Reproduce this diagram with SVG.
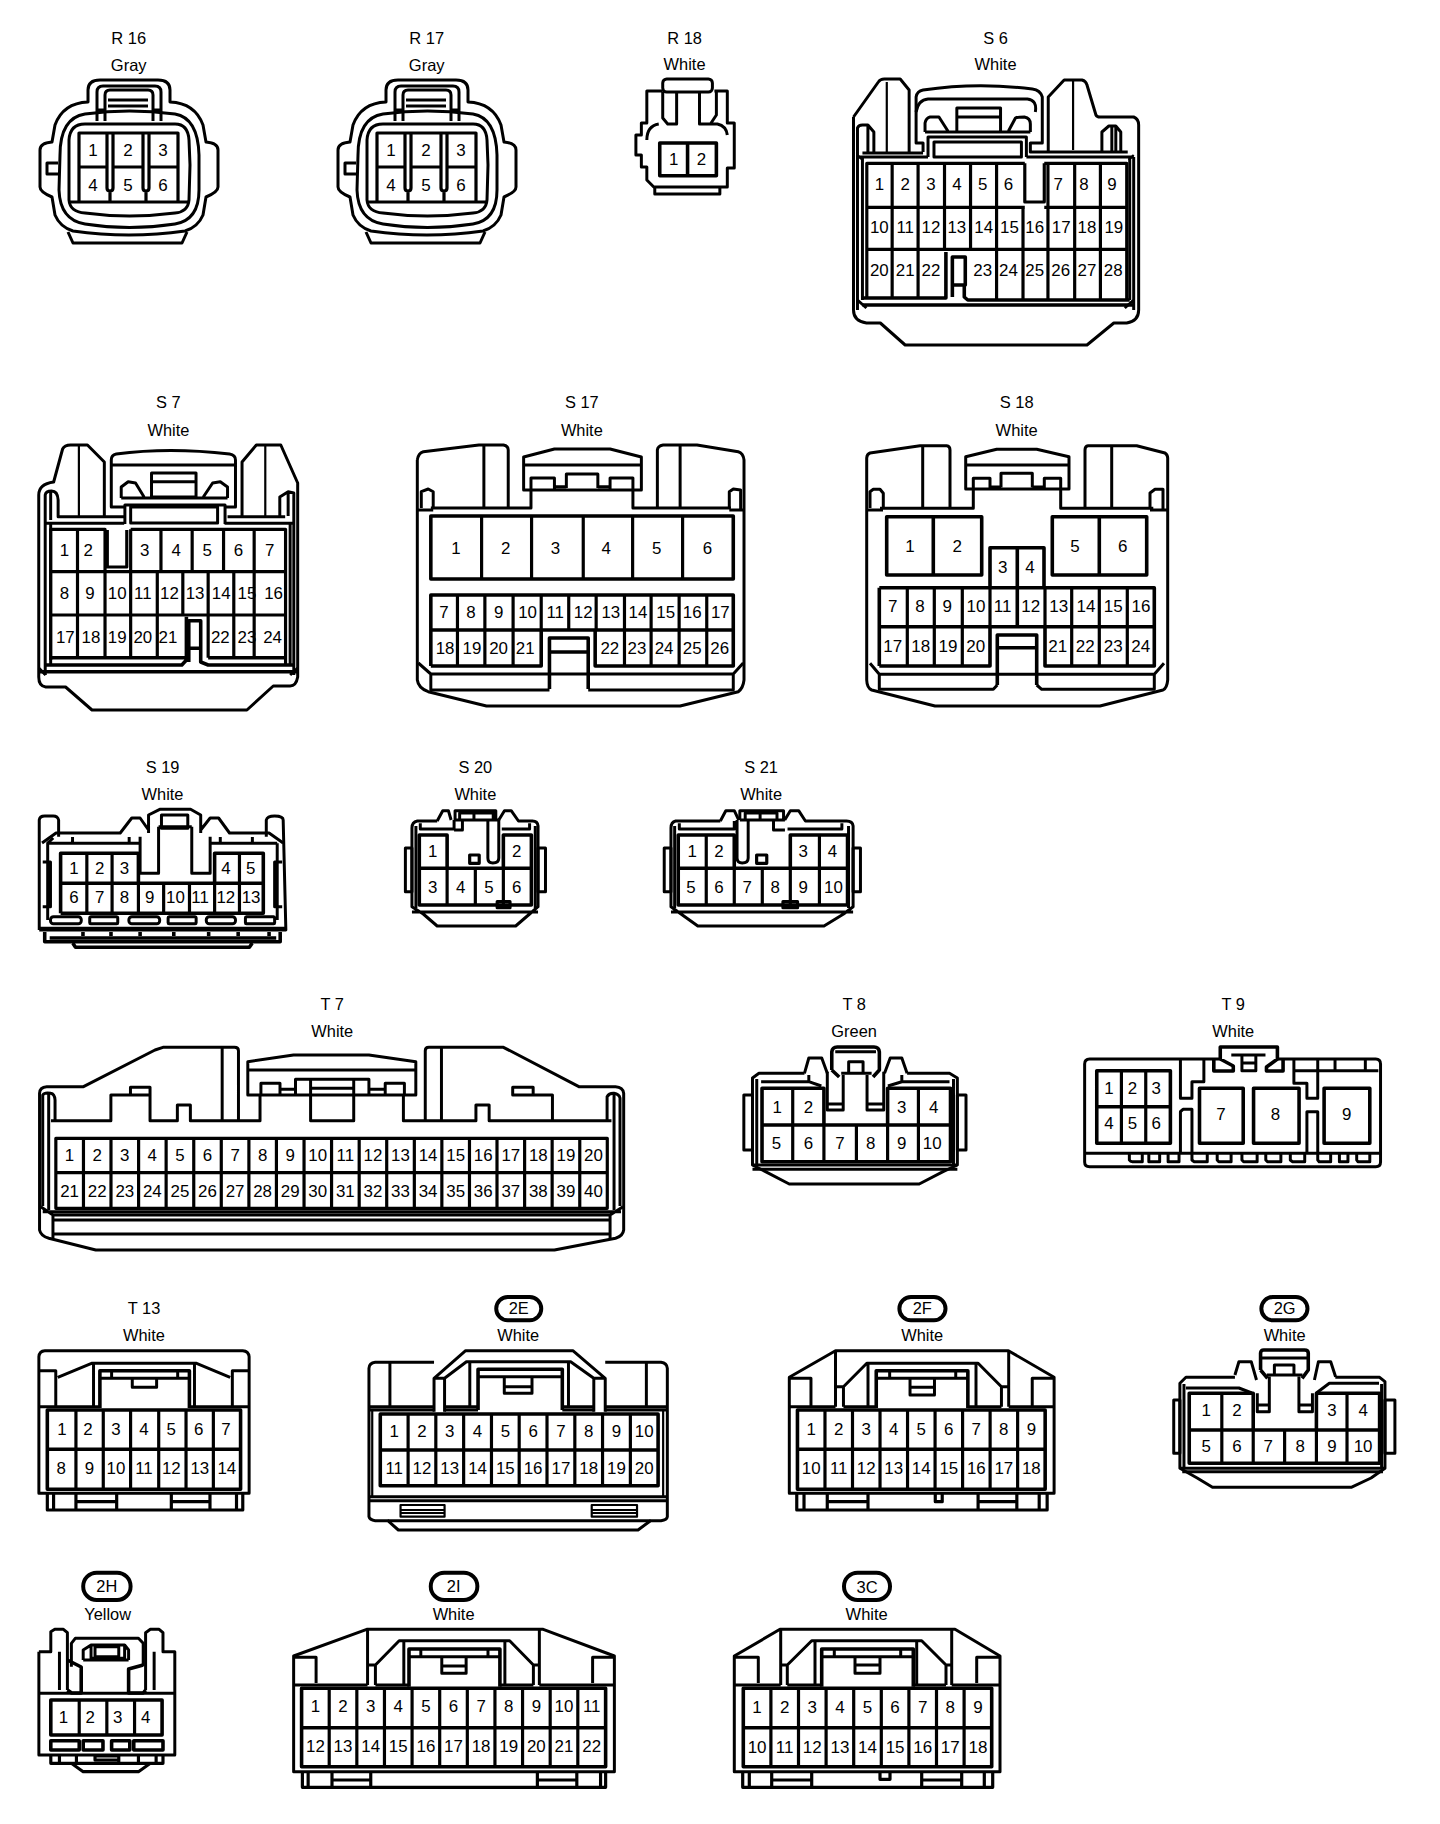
<svg xmlns="http://www.w3.org/2000/svg" width="1440" height="1824" viewBox="0 0 1440 1824">
<style>
text{font-family:"Liberation Sans",Arial,sans-serif;fill:#000;text-anchor:middle}
.p text{font-size:17px}
.n text,text.n{font-size:16.5px}
path,rect{fill:none;stroke:#000;stroke-width:3;stroke-linejoin:round}
.h{stroke-width:2.2}
.b{stroke-width:3.6}
.g{stroke-width:3.2}
.pill{stroke-width:4}
</style>
<defs>
<g id="r-shell">
<path d="M88,102V90Q88,80 100,80H158Q170,80 170,90V102Q195,103 203,125L206,142Q218,143 218,150V187Q218,192 206,197L203,215Q198,227 185,231Q129,239 73,231Q60,227 55,215L52,197Q40,192 40,187V150Q40,143 52,142L55,125Q63,103 88,102Z"/>
<path d="M68,232L73,243H182L187,232"/>
<path d="M60,155Q60,118 85,114Q129,108 175,114Q198,118 199,155V190Q199,220 175,224Q129,231 85,224Q60,220 59,190Z"/>
<path d="M69,200V140Q70,124 85,124H175Q188,124 189,140L190,165L189,200Q188,212 175,213Q129,219 85,213Q70,212 69,200Z"/>
<path d="M97,121V92Q97,86 103,86H155Q161,86 161,92V121M105,121V95Q105,90 110,90H148Q153,90 153,95V121M97,110H105M153,110H161"/>
<path d="M108,100H148M108,106H148M58,163H47V174H59"/>
<path class="g" d="M69,202H189M79,202V133H178V202M79,167H107M113,167H143M149,167H178M107,133V188Q107,191 110,191Q113,191 113,188V133M143,133V188Q143,191 146,191Q149,191 149,188V133M110,191V202M146,191V202"/>
</g>
</defs>

<g id="R16">
<text class="n" x="128.7" y="44">R 16</text><text class="n" x="128.7" y="70.5">Gray</text>
<use href="#r-shell"/>
<g class="p"><text x="93" y="156">1</text><text x="128" y="156">2</text><text x="163" y="156">3</text><text x="93" y="190.5">4</text><text x="128" y="190.5">5</text><text x="163" y="190.5">6</text></g>
</g>
<g id="R17" transform="translate(298,0)">
<text class="n" x="128.7" y="44">R 17</text><text class="n" x="128.7" y="70.5">Gray</text>
<use href="#r-shell"/>
<g class="p"><text x="93" y="156">1</text><text x="128" y="156">2</text><text x="163" y="156">3</text><text x="93" y="190.5">4</text><text x="128" y="190.5">5</text><text x="163" y="190.5">6</text></g>
</g>

<g id="R18" transform="matrix(.9936 0 0 1 3.97 0)">
<text class="n" x="685" y="44">R 18</text><text class="n" x="685" y="70.5">White</text>
<rect x="663" y="79" width="50" height="13" rx="4"/>
<path d="M663,91H647V123H641.500V135H636V155H641.500V167H647V180L654,187H728V168H735V123H728V91H715"/>
<path d="M663,92V118L668,124H677V92M700,92V124H711L717,115V92M647,140Q647,126 659,124M700,124H718Q727,126 728,135"/>
<path d="M655,187V194H720.500V187"/>
<path class="b" d="M660,143H717V175.700H660ZM688,143V175.700"/>
<g class="p"><text x="674" y="165">1</text><text x="702" y="165">2</text></g>
</g>

<g id="S6" transform="matrix(.9936 0 0 1 3.97 0)">
<text class="n" x="998" y="44">S 6</text><text class="n" x="998" y="70.500">White</text>
<path d="M855,117L880,82Q882,79 886,79H902L911,90V153M1051,153V97L1067,80H1085Q1089,81 1090,85L1099,115Q1100,117 1103,117H1137Q1142,119 1142,125V310Q1142,321 1130,323H1117L1090,345H907L882,323H868Q855,321 855,310V117"/>
<path class="h" d="M888.500,82V152M1076,80V150"/>
<path d="M925,152V143H918V97Q919,91 925,90Q979,82 1035,89Q1043,90 1045,97V143H1033V152H1131"/>
<path d="M918,112Q920,100 930,99H1030Q1040,100 1038,112"/>
<path d="M959,108H1003V132H959ZM959,117H1003M927,132V123Q928,118 932,117H941L950,131M1011,131L1018,118Q1020,117 1027,117Q1033,118 1033,124V132M927,132H1033"/>
<path d="M930,157V137H1029V157M936,142H1024V157H936Z"/>
<path d="M859,310V128Q860,125 864,125H869.500L875.500,132V152M869.500,126V152M864,153H925M1105,152V132L1112,126H1119L1124,132V152M1115,127V152M1119,127V152"/>
<path d="M859,157H930M1029,157H1137M864,157V300M1133,157V300M1137,157V310M859,300L868,308M1137,300L1128,308"/>
<path class="h" d="M859,155L864,160M1137,155L1132,160"/>
<path class="g" d="M868.400,298V163.300H1027.400M1047,163.300H1130V300M893.900,163.300V298M920,163.300V298M946.600,163.300V249.300M972.800,163.300V249.300M999,163.300V300M1025.600,207.300V300M1050.700,163.300V300M1077.600,163.300V300M1103.500,163.300V300M868.400,207.300H1027.400M1047,207.300H1130M868.400,249.300H1130M1027.400,163.300V202H1047V163.300"/>
<path class="b" d="M948,252V298H864M954.500,257H967.500V285H954.500ZM954.500,285V297M966.500,285V297L970,300H1133M864,305H1137"/>
<g class="p"><text x="881" y="190">1</text><text x="907" y="190">2</text><text x="933" y="190">3</text><text x="959" y="190">4</text><text x="985" y="190">5</text><text x="1011" y="190">6</text><text x="1061" y="190">7</text><text x="1087" y="190">8</text><text x="1115" y="190">9</text>
<text x="881" y="233">10</text><text x="907" y="233">11</text><text x="933" y="233">12</text><text x="959" y="233">13</text><text x="986" y="233">14</text><text x="1012" y="233">15</text><text x="1037.400" y="233">16</text><text x="1064" y="233">17</text><text x="1090" y="233">18</text><text x="1117" y="233">19</text>
<text x="881" y="276.500">20</text><text x="907" y="276.500">21</text><text x="933" y="276.500">22</text><text x="985" y="276.500">23</text><text x="1011" y="276.500">24</text><text x="1037.400" y="276.500">25</text><text x="1063.600" y="276.500">26</text><text x="1090" y="276.500">27</text><text x="1116.400" y="276.500">28</text></g>
</g>

<g id="S7" transform="scale(.9936,1)">
<text class="n" x="169.500" y="408.300">S 7</text><text class="n" x="169.500" y="436">White</text>
<path d="M39,495Q39,484 54,482L63,449Q65,445 71,445H88L105,462V516M243.600,516V462L258,445H282.600L299.600,483V677Q298,686 292,686H275L248.500,710H92.600L66,687H46Q39,686 39,677V495"/>
<path class="h" d="M79.400,445V516M267,445V516"/>
<path d="M125.700,507H112V460Q112,455 117,454Q170,447 231,454Q237,455 237,460V507H226.500M112,465H237"/>
<path d="M152.500,473H197.300V497H152.500ZM152.500,481.700H197.300M122,498V487L129,481.700L136.400,483L145,497M204.600,497L214,483L221.700,481.700L229,487V498M122,498H229"/>
<path d="M125.700,524V505H226.500V524M131.500,507H219V523H131.500Z"/>
<path d="M45.500,675V495Q46,491 52,491Q58,491 58.500,500V516.700H125M51,491V520M229,516.700H287M281.600,516.700V497L290,491.700L295.700,493V675M290,491.700V516"/>
<path d="M46,523.300H125M226,523.300H296M51,523V665M292,523V665M39,668L46,675M299.600,668L292,675"/>
<path class="g" d="M51,660V529.300H105.700V571.700M108,530V567H127.600V530M131.500,529.300H287.400V665M78,529.300V657.700M131.500,529.300V615M162,529.300V571.700M193.400,529.300V571.700M225,529.300V571.700M255.800,529.300V657.700M158.300,571.700V657.700M184,571.700V615M209.500,571.700V657.700M235.300,571.700V657.700M105.700,571.700V657.700M131.500,615V657.700M51,571.700H287.400M51,615H287.400"/>
<path class="b" d="M187.600,616.700V660L183,665H46M190,620.700H202V648.300H190ZM190,648V662M202,648V662L209.500,665H295M39,671.700H299.600M51,657.700H187.600M209.500,657.700H287.400"/>
<g class="p"><text x="64.800" y="556">1</text><text x="88.700" y="556">2</text><text x="145.700" y="556">3</text><text x="177.300" y="556">4</text><text x="208.500" y="556">5</text><text x="240" y="556">6</text><text x="271.400" y="556">7</text>
<text x="64.800" y="599">8</text><text x="90.600" y="599">9</text><text x="118" y="599">10</text><text x="143.700" y="599">11</text><text x="170.500" y="599">12</text><text x="196.300" y="599">13</text><text x="222.600" y="599">14</text><text x="248.500" y="599">15</text><text x="275.300" y="599">16</text>
<text x="65.800" y="642.700">17</text><text x="91.600" y="642.700">18</text><text x="118" y="642.700">19</text><text x="143.700" y="642.700">20</text><text x="169" y="642.700">21</text><text x="221.700" y="642.700">22</text><text x="248.500" y="642.700">23</text><text x="274.300" y="642.700">24</text></g>
</g>

<g id="S17" transform="scale(.9936,1)">
<text class="n" x="585.600" y="408.300">S 17</text><text class="n" x="585.600" y="436">White</text>
<path d="M420,460Q421,453 426,451.700L482,445H506.700Q511.500,446 511.500,450V508M661.600,508V450Q662,446 667.400,445H701.500L743,451.700Q748,453 748.800,460V680Q748,688 743,691.700L684.500,706H489.600L431,691.700Q421,688 420,680V460"/>
<path d="M487,445V508M684.500,445V508"/>
<path d="M527,490V457L558,449H614L645.500,457V490ZM527,465H645.500M534.400,490V478H558V490M570,488V474H601.700V488M614,490V478H637V490M558,486.700H570M601.700,486.700H614M534.400,490V508H433.600M637,490V508H735.600"/>
<path d="M424,508V491.700L431,489L436,491.700V508M734,508V491.700L738,489L745.400,490V510M420,510H436M734,510H749"/>
<path class="b" d="M433.600,516H738V579H433.600Z"/>
<path class="g" d="M484.700,516V579M535,516V579M587,516V579M636.700,516V579M687,516V579"/>
<path class="b" d="M433.600,666V595H738V666H599V630M433.600,630H738M433.600,666H544.700V630"/>
<path class="g" d="M460.400,595V666M488,595V666M516.400,595V666M544.700,595V630M572.400,595V630M600,595V630M628.500,595V666M655.300,595V666M683.500,595V666M711.300,595V666"/>
<path class="b" d="M553,689V638H592V689M553,652H592"/>
<path d="M421,663L433.600,674H738L748,663M433.600,674V690H553M738,674V690H592"/>
<g class="p"><text x="459" y="553.700">1</text><text x="509" y="553.700">2</text><text x="559" y="553.700">3</text><text x="610" y="553.700">4</text><text x="661" y="553.700">5</text><text x="712" y="553.700">6</text>
<text x="446.700" y="617.700">7</text><text x="474" y="617.700">8</text><text x="501.800" y="617.700">9</text><text x="531" y="617.700">10</text><text x="558.800" y="617.700">11</text><text x="587" y="617.700">12</text><text x="614.800" y="617.700">13</text><text x="642" y="617.700">14</text><text x="670" y="617.700">15</text><text x="696.700" y="617.700">16</text><text x="725" y="617.700">17</text>
<text x="448" y="653.700">18</text><text x="475" y="653.700">19</text><text x="501.800" y="653.700">20</text><text x="528.600" y="653.700">21</text><text x="613.800" y="653.700">22</text><text x="641" y="653.700">23</text><text x="668.400" y="653.700">24</text><text x="696.700" y="653.700">25</text><text x="724.400" y="653.700">26</text></g>
</g>

<g id="S18">
<text class="n" x="1016.700" y="408.300">S 18</text><text class="n" x="1016.700" y="436">White</text>
<path d="M866.700,458Q867,454 870,453L920,445.700H946.700Q950,446 950,450V508M1085,508V450Q1085,446 1088,445.700H1136.700L1165,453Q1167.700,455 1167.700,458V680Q1167,688 1163,690L1100,706H935L871.700,690Q867,688 866.700,680V458"/>
<path d="M922.700,446V508M1111.700,446V508"/>
<path d="M965.700,489V456.700L996.700,449.300H1036.700L1069,456.700V489ZM965.700,465H1069M973.300,489V478.300H990V488.300M1001,487.300V473.300H1032.300V487.300M1044.300,489V478.300H1060.700V489M990,487H1001M1032.300,487H1044.300M973.300,489V508.300H880M1060.700,489V508.300H1153.300"/>
<path d="M870,508V491.700L873.300,489.300H880L883.300,493.300V508M1150,508V493L1155,489.300H1163V510M866.700,510H883M1150,510H1167"/>
<path class="b" d="M886.700,516.700H981.700V575H886.700ZM933.300,516.700V575M1052.300,516.700H1146.700V575H1052.300ZM1099.300,516.700V575"/>
<path class="b" d="M990,587.700V547.700H1044V587.700M1017.300,547.700V626.700"/>
<path class="b" d="M879.300,587.700H1154.300V666H1045V626.700M879.300,666V587.700M879.300,626.700H1154.300M879.300,666H990V626.700"/>
<path class="g" d="M907.300,587.700V666M934.300,587.700V666M962.300,587.700V666M990,587.700V626.700M1045,587.700V626.700M1071.700,587.700V666M1099.300,587.700V666M1127.300,587.700V666"/>
<path class="b" d="M997.300,685V635H1036.700V685M997.300,647.700H1036.700"/>
<path d="M870,663.300L879.300,674.300H1154.300L1164,663.300M879.300,674.300V689.300H993.300L997.300,685M1154.300,674.300V689.300H1041.700L1036.700,685"/>
<g class="p"><text x="910" y="551.700">1</text><text x="957.300" y="551.700">2</text><text x="1002.700" y="572.700">3</text><text x="1030" y="572.700">4</text><text x="1075" y="551.700">5</text><text x="1122.700" y="551.700">6</text>
<text x="892.700" y="612.300">7</text><text x="920" y="612.300">8</text><text x="947.300" y="612.300">9</text><text x="976" y="612.300">10</text><text x="1002.700" y="612.300">11</text><text x="1030.700" y="612.300">12</text><text x="1058.700" y="612.300">13</text><text x="1086" y="612.300">14</text><text x="1113.300" y="612.300">15</text><text x="1141" y="612.300">16</text>
<text x="892.700" y="651.700">17</text><text x="920.700" y="651.700">18</text><text x="948" y="651.700">19</text><text x="975.700" y="651.700">20</text><text x="1057.700" y="651.700">21</text><text x="1085.300" y="651.700">22</text><text x="1113.300" y="651.700">23</text><text x="1140.700" y="651.700">24</text></g>
</g>

<g id="S19" transform="scale(.9936,1)">
<text class="n" x="163.600" y="773.500">S 19</text><text class="n" x="163.600" y="800.500">White</text>
<path d="M39.500,930V820Q40,816 45,816H53.600Q58,816 59,820V836.700M268,836.700V820Q269,816 276.400,816Q285,816 285,820L287.700,930H39.500"/>
<path d="M42.300,843L56.400,833H121L132.600,818H141L149.500,830M149.500,833V815L160.800,809.300H191.800L202,815V833M202,830L211.500,818H220L231,833H270.800L285,843"/>
<path d="M162.500,815H189V828.300H162.500ZM159.600,826.700H193M159.600,826.700V873.300H141V836.700M193,826.700V873.300H211.500V836.700"/>
<path d="M48,920V843L53.600,838M73,837V843.300M130,837V843.300M221.700,837V843.300M254,837V843.300M48,843.300H141M211.500,843.300H279M279,843.300V920"/>
<path d="M43,862H50.800V906.700H43M284,862H276.400V906.700H284"/>
<path class="b" d="M61,913.300V853.300H139.300V883.300M216,883.300V853.300H265V913.300H61M61,883.300H265"/>
<path class="g" d="M87.400,853.300V913.300M112.800,853.300V913.300M139.300,883.300V913.300M164.700,883.300V913.300M190.700,883.300V913.300M216,883.300V913.300M241,853.300V913.300"/>
<g class="g"><rect x="50.800" y="916.700" width="31" height="7" rx="3"/><rect x="90.300" y="916.700" width="28.200" height="7" rx="1"/><rect x="129.700" y="916.700" width="31" height="7" rx="3"/><rect x="169.200" y="916.700" width="28.200" height="7" rx="1"/><rect x="207.600" y="916.700" width="29.400" height="7" rx="3"/><rect x="247" y="916.700" width="29.400" height="7" rx="1"/></g>
<path d="M39.500,928.300H287.700"/>
<path class="b" d="M45,932V941.700H282V932M50,938H278M83.500,932V936M111.700,932V936M141,932V936M174.900,932V936M210,932V936M239.700,932V936M270.800,932V936M73.300,943.300L76,947.300H251L253.800,943.300"/>
<g class="p"><text x="74.500" y="874">1</text><text x="100.400" y="874">2</text><text x="125.200" y="874">3</text><text x="227.300" y="874">4</text><text x="252.200" y="874">5</text>
<text x="74.500" y="902.700">6</text><text x="100.400" y="902.700">7</text><text x="125.200" y="902.700">8</text><text x="150.600" y="902.700">9</text><text x="176.600" y="902.700">10</text><text x="201.400" y="902.700">11</text><text x="227.300" y="902.700">12</text><text x="252.700" y="902.700">13</text></g>
</g>

<g id="S20" transform="scale(.9936,1)">
<text class="n" x="478.400" y="773.500">S 20</text><text class="n" x="478.400" y="800.500">White</text>
<path d="M440,821H420Q414.600,822 414.600,828V906.700L426,914L440,926H519L533,914L541.500,906.700V826Q541,821 536,821H521.800L514.500,810.700H507.700L502,820M440,821L445.600,810.700H451.300L454,820M414.600,912H541.500"/>
<path d="M408,848H414.600V891.700H408ZM541.500,848H549V891.700H541.500Z"/>
<path d="M458,820V810.700H499V820M458,820H502M462.600,813H496.400V820H462.600ZM477,813V820"/>
<path d="M423,823.300V829H457V820M465.400,820V830H457M491,820V858Q491,863 496,863Q502,863 502,858V820M505,829H533V823.300M418.600,826V908M538.700,826V908"/>
<path class="b" d="M422,868.300V835H450V868.300M506.600,868.300V835H534.800V905H422V868.300H534.800"/>
<path class="g" d="M450,868.300V905M478.400,868.300V905M506.600,868.300V905"/>
<rect class="g" x="472.700" y="855" width="9.600" height="8.300"/><rect class="g" x="500.400" y="901.700" width="12.900" height="6"/>
<g class="p"><text x="435.500" y="856.700">1</text><text x="520" y="856.700">2</text><text x="435.500" y="892.700">3</text><text x="463.700" y="892.700">4</text><text x="492" y="892.700">5</text><text x="520" y="892.700">6</text></g>
</g>

<g id="S21" transform="scale(.9936,1)">
<text class="n" x="766" y="773.500">S 21</text><text class="n" x="766" y="800.500">White</text>
<path d="M725,821H680Q675.300,822 675.300,828V906.700L685.400,914L702.300,926H829.300L849,914L858.600,906.700V826Q858,821 852,821H810.600L803.800,810.700H795.400L789.800,820M725,821L730.500,810.700H739L743.500,820M675.300,912H858.600"/>
<path d="M668.500,848H675.300V891.700H668.500ZM858.600,848H866V891.700H858.600Z"/>
<path d="M744.600,820V810.700H788.600V820M744.600,820H790M750,813H782V820H750ZM765,813V820"/>
<path d="M683.700,823.300V829H739V821M741.800,820V858Q742,863 747,863Q753,863 753,858V820M778.500,820V830H790M792.600,829H847.300V823.300M679,826V908M854,826V908"/>
<path class="b" d="M682.600,868.300V835H739V868.300M795.400,868.300V835H853V905H682.600V868.300H853"/>
<path class="g" d="M710.800,835V905M739,868.300V905M767.200,868.300V905M795.400,868.300V905M824.700,835V905"/>
<rect class="g" x="761.500" y="855" width="10.200" height="8.300"/><rect class="g" x="788" y="901.700" width="14.700" height="6"/>
<g class="p"><text x="696.700" y="856.700">1</text><text x="723.700" y="856.700">2</text><text x="808.400" y="856.700">3</text><text x="837.700" y="856.700">4</text><text x="695.500" y="892.700">5</text><text x="723.700" y="892.700">6</text><text x="752" y="892.700">7</text><text x="780.200" y="892.700">8</text><text x="808.400" y="892.700">9</text><text x="838.800" y="892.700">10</text></g>
</g>

<g id="T7" transform="scale(.9936,1)">
<text class="n" x="334.400" y="1010.500">T 7</text><text class="n" x="334.400" y="1037.500">White</text>
<path d="M240,1120V1050.700Q240,1047.300 236,1047.300H164L156,1050L84,1086.700H47Q40,1087 39.800,1093.300V1230Q41,1236 49.200,1238.300L96.400,1250H558L619.500,1238.300Q627,1236 627.700,1230V1093.300Q627,1087 619.500,1086.700H582.600L506.700,1047.300H431.600Q428,1047.300 428,1050.700V1120"/>
<path d="M223.600,1047.300V1120M444.300,1047.300V1120"/>
<path d="M249.400,1095V1061.700L295.400,1055H371.300L418.500,1061.700V1095ZM249.400,1070H418.500M262.600,1095V1083.300H281.800V1095M387.700,1095V1083.300H407V1095M297.400,1095V1079.300H371.300V1095M281.800,1089.300H297.400M371.300,1089.300H387.700M312.600,1079.300V1120.700H356V1079.300M312.600,1088.300H356"/>
<path d="M51.300,1120.700H111.600V1095H131.300V1087.300H151V1120.700H178.500V1105H191.600V1120.700H261.700V1095M131.300,1095H151M406,1095V1120.700H479V1105H492.300V1120.700H556V1095H516V1087.300H536.600V1095M556,1120.700H615.400"/>
<path d="M43,1206V1095Q45,1092 51,1093.300Q55,1094 55.400,1100V1120.700M49,1093V1210M611,1120.700V1096.700Q613,1093 618,1093.300Q623,1094 624,1098V1206M618,1094V1210"/>
<path class="g" d="M56.200,1138.300H611.200V1208.300H56.200ZM56.200,1172.700H611.200M84,1138.300V1208.300M111.700,1138.300V1208.300M139.500,1138.300V1208.300M167.200,1138.300V1208.300M195,1138.300V1208.300M222.700,1138.300V1208.300M250.500,1138.300V1208.300M278.200,1138.300V1208.300M306,1138.300V1208.300M333.700,1138.300V1208.300M361.500,1138.300V1208.300M389.200,1138.300V1208.300M417,1138.300V1208.300M444.700,1138.300V1208.300M472.500,1138.300V1208.300M500.200,1138.300V1208.300M528,1138.300V1208.300M555.700,1138.300V1208.300M583.500,1138.300V1208.300"/>
<path d="M41,1206.700L53.300,1215H614L627,1206.700M43,1211.700H625M53.300,1220H614M53.300,1215V1238M614,1215V1238M53.300,1234H615"/>
<g class="p"><text x="70" y="1161">1</text><text x="97.800" y="1161">2</text><text x="125.600" y="1161">3</text><text x="153.300" y="1161">4</text><text x="181.100" y="1161">5</text><text x="208.800" y="1161">6</text><text x="236.600" y="1161">7</text><text x="264.300" y="1161">8</text><text x="292.100" y="1161">9</text><text x="319.800" y="1161">10</text><text x="347.600" y="1161">11</text><text x="375.300" y="1161">12</text><text x="403.100" y="1161">13</text><text x="430.800" y="1161">14</text><text x="458.600" y="1161">15</text><text x="486.300" y="1161">16</text><text x="514.100" y="1161">17</text><text x="541.800" y="1161">18</text><text x="569.600" y="1161">19</text><text x="597.300" y="1161">20</text>
<text x="70" y="1196.700">21</text><text x="97.800" y="1196.700">22</text><text x="125.600" y="1196.700">23</text><text x="153.300" y="1196.700">24</text><text x="181.100" y="1196.700">25</text><text x="208.800" y="1196.700">26</text><text x="236.600" y="1196.700">27</text><text x="264.300" y="1196.700">28</text><text x="292.100" y="1196.700">29</text><text x="319.800" y="1196.700">30</text><text x="347.600" y="1196.700">31</text><text x="375.300" y="1196.700">32</text><text x="403.100" y="1196.700">33</text><text x="430.800" y="1196.700">34</text><text x="458.600" y="1196.700">35</text><text x="486.300" y="1196.700">36</text><text x="514.100" y="1196.700">37</text><text x="541.800" y="1196.700">38</text><text x="569.600" y="1196.700">39</text><text x="597.300" y="1196.700">40</text></g>
</g>

<g id="T8" transform="matrix(.9936 0 0 1 4.6 0)">
<text class="n" x="855" y="1010.500">T 8</text><text class="n" x="855" y="1037.500">Green</text>
<path class="b" d="M832.500,1070V1052Q833,1047 838,1047H875Q880,1047 880.400,1052V1070L874,1077M832.500,1070L840,1077"/>
<path d="M836,1051.700H877M828,1071.700V1110H844V1075M884.800,1071.700V1110H868V1075M828,1104H844M868,1104H885"/>
<path d="M842,1073.300H872.600M849.500,1073V1061.700H864V1073"/>
<path d="M805,1073.300L809.400,1058H822.400L828,1073.300M885.600,1073.300L891.300,1058H903L908.300,1073.300M805,1073.300H759.200L752.700,1078V1165L765.800,1171.700L789.700,1184H920.500L944.500,1171.700L958.900,1165V1078L951,1073.300H908.300"/>
<path d="M757,1165V1079M955,1165V1079M761.400,1081.700H809.400V1075M903,1075V1081.700H951M809.400,1081.700L822,1086M903,1081.700L889,1086M744,1095H752.700V1150H744ZM958.900,1095H967.600V1150H958.900Z"/>
<path class="b" d="M762.300,1125V1088.300H824.600V1125M888.700,1125V1088.300H952V1161.700H762.300V1125H952"/>
<path class="g" d="M793.200,1088.300V1161.700M824.600,1125V1161.700M857.300,1125V1161.700M888.700,1125V1161.700M919.700,1088.300V1161.700"/>
<path d="M752.700,1165H958.900M752.700,1169.300H958.900"/>
<g class="p"><text x="777.500" y="1112.700">1</text><text x="809" y="1112.700">2</text><text x="903" y="1112.700">3</text><text x="935" y="1112.700">4</text><text x="776.700" y="1148.700">5</text><text x="809" y="1148.700">6</text><text x="840.700" y="1148.700">7</text><text x="871.700" y="1148.700">8</text><text x="903" y="1148.700">9</text><text x="933.600" y="1148.700">10</text></g>
</g>

<g id="T9" transform="matrix(.9936 0 0 1 4.6 0)">
<text class="n" x="1236.600" y="1010.500">T 9</text><text class="n" x="1236.600" y="1037.500">White</text>
<path d="M1223.500,1059H1092Q1087,1059 1087,1064V1162Q1087,1166.700 1092,1166.700H1380Q1384.800,1166.700 1384.800,1162V1064Q1384.800,1059 1380,1059H1281"/>
<path class="b" d="M1223.500,1059V1047H1281V1059L1270,1067V1071H1286.700V1059M1223.500,1059L1236.600,1066V1071H1217V1059"/>
<path d="M1234.600,1055H1269M1245.300,1055V1070.700H1259.300V1055M1245.300,1063H1259.300"/>
<path d="M1297.600,1070.700H1382.600M1297.600,1059V1083.300H1310.700V1098.300H1321.600V1059M1339,1059V1070.700M1369.500,1059V1070.700M1183.400,1059V1098.300H1195V1081.700H1207V1059M1183.400,1153.300V1111.700L1186,1109.300H1195V1153.300M1310.700,1153.300V1111.700H1321.600V1153.300"/>
<path class="b" d="M1099.200,1070.700H1173.300V1143.300H1099.200ZM1099.200,1106.700H1173.300M1202.600,1088.300H1246.600V1143.300H1202.600ZM1257,1088.300H1302.800V1143.300H1257ZM1328,1088.300H1374V1143.300H1328Z"/>
<path class="g" d="M1124,1070.700V1143.300M1148.500,1070.700V1143.300"/>
<path d="M1087,1153.300H1384.800M1132,1153.300V1160Q1133,1161.700 1135,1161.700H1145V1153.300M1151.600,1153.300V1161.700H1162.500V1153.300M1171,1153.300V1161.700H1182V1153.300M1195,1153.300V1160L1197,1161.700H1210.400V1153.300M1220.400,1153.300V1160L1222,1161.700H1234.400V1153.300M1245.300,1153.300V1160L1247,1161.700H1260.600V1153.300M1269.300,1153.300V1160L1271,1161.700H1284.500V1153.300M1294,1153.300V1160L1296,1161.700H1308.500V1153.300M1321.600,1153.300V1160L1323,1161.700H1334.600V1153.300M1343.400,1153.300V1161.700H1352V1153.300M1360.800,1153.300V1160L1362,1161.700H1374V1153.300"/>
<g class="p"><text x="1111.500" y="1094">1</text><text x="1135" y="1094">2</text><text x="1159" y="1094">3</text><text x="1111.500" y="1129.500">4</text><text x="1135" y="1129.500">5</text><text x="1159" y="1129.500">6</text><text x="1224.300" y="1120">7</text><text x="1279" y="1120">8</text><text x="1350.800" y="1120">9</text></g>
</g>

<g id="T13" transform="matrix(.9936 0 0 1 .13 0)">
<text class="n" x="144.800" y="1314">T 13</text><text class="n" x="144.800" y="1341">White</text>
<path d="M39,1356.700Q39.500,1351 45,1350.700H244.200Q250,1351 250.600,1356.700V1493.300H39Z"/>
<path d="M39,1370.700H56V1406.700M58,1377.300L92,1363.300H197.700L231.500,1377.300M233.700,1406.700V1370.700H250.600M94,1363.300V1406.700M195.600,1363.300V1406.700M39,1406.700H100.400M190.500,1406.700H250.600"/>
<path class="b" d="M100.400,1408V1370.700H190.500V1408"/>
<path d="M100.400,1378.300H190.500M112.200,1370.700V1378.300M178.700,1370.700V1378.300M133,1378.300V1387.300H157.500V1378.300"/>
<path class="b" d="M47.500,1410H242V1489.300H47.500ZM47.500,1449.300H242"/>
<path class="g" d="M76.300,1410V1489.300M103.800,1410V1489.300M131.300,1410V1489.300M159.600,1410V1489.300M187.100,1410V1489.300M214.600,1410V1489.300"/>
<path class="g" d="M47.500,1493.300V1510H244.200V1493.300M53.800,1493.300V1510M237.900,1493.300V1510M76.300,1493.300V1510M117.300,1493.300V1510M76.300,1501.700H117.300M172.300,1493.300V1510M211.200,1493.300V1510M172.300,1501.700H211.200"/>
<g class="p"><text x="62.300" y="1435">1</text><text x="88.500" y="1435">2</text><text x="116.500" y="1435">3</text><text x="144.800" y="1435">4</text><text x="172.300" y="1435">5</text><text x="199.800" y="1435">6</text><text x="227.300" y="1435">7</text>
<text x="61.500" y="1474.500">8</text><text x="89.800" y="1474.500">9</text><text x="116.500" y="1474.500">10</text><text x="144.800" y="1474.500">11</text><text x="172.300" y="1474.500">12</text><text x="201" y="1474.500">13</text><text x="228.200" y="1474.500">14</text></g>
</g>

<g id="2E" transform="matrix(.9936 0 0 1 .13 0)">
<rect class="pill" x="499.300" y="1297" width="45.300" height="23.300" rx="11.600"/>
<text class="n" x="522" y="1314.500">2E</text><text class="n" x="521.400" y="1341">White</text>
<path d="M436.700,1362.300H377.500Q371.500,1363 371.200,1368.300V1516.700Q372,1520 377.500,1520.700H390.200L400.800,1530H642L654.600,1520.700H665.200Q671,1520 671.500,1516.700V1368.300Q671,1363 665.200,1362.300H609"/>
<path d="M436.700,1411.700V1378.300L468.500,1350.700H576.400L609,1378.300V1411.700M447.300,1411.700V1378.300L469.300,1361.700H574.200L597.500,1378.300V1411.700M436.700,1378.300H447.300M597.500,1378.300H609"/>
<path d="M392.300,1362.300V1406.700M650.400,1362.300V1406.700M472.700,1361.700V1406.700M572,1361.700V1406.700"/>
<path class="b" d="M481,1410V1369.300H565.800V1410"/>
<path d="M481,1376.700H565.800M507.400,1378V1393.300H535.300V1378M507.400,1386.700H535.300"/>
<path d="M371.200,1406.700H436.700M447.300,1406.700H481M565.800,1406.700H597.500M609,1406.700H671.500M371.200,1410H436.700M447.300,1410H481M565.800,1410H597.500M609,1410H671.500"/>
<path class="h" d="M374.500,1410V1496.700M667.300,1410V1496.700"/>
<path class="b" d="M382.600,1414H662.200V1485.700H382.600ZM382.600,1450H662.200"/>
<path class="g" d="M410.600,1414V1485.700M438.500,1414V1485.700M466.500,1414V1485.700M494.500,1414V1485.700M522.400,1414V1485.700M550.400,1414V1485.700M578.400,1414V1485.700M606.300,1414V1485.700M634.300,1414V1485.700"/>
<path d="M371.200,1496.700H671.500M371.200,1500.700H671.500M390.200,1520.700H654.600"/>
<path class="h" d="M403,1505H447.300V1516.700H403ZM403,1510H447.300M403,1513H447.300M595.400,1505H641V1516.700H595.400ZM595.400,1510H641M595.400,1513H641"/>
<g class="p"><text x="396.600" y="1437.500">1</text><text x="424.500" y="1437.500">2</text><text x="452.500" y="1437.500">3</text><text x="480.500" y="1437.500">4</text><text x="508.500" y="1437.500">5</text><text x="536.400" y="1437.500">6</text><text x="564.400" y="1437.500">7</text><text x="592.300" y="1437.500">8</text><text x="620.300" y="1437.500">9</text><text x="648.200" y="1437.500">10</text>
<text x="396.600" y="1474.500">11</text><text x="424.500" y="1474.500">12</text><text x="452.500" y="1474.500">13</text><text x="480.500" y="1474.500">14</text><text x="508.500" y="1474.500">15</text><text x="536.400" y="1474.500">16</text><text x="564.400" y="1474.500">17</text><text x="592.300" y="1474.500">18</text><text x="620.300" y="1474.500">19</text><text x="648.200" y="1474.500">20</text></g>
</g>

<g id="2F" transform="matrix(.9936 0 0 1 4.86 0)">
<rect class="pill" x="900.300" y="1297" width="46.400" height="23.300" rx="11.600"/>
<text class="n" x="923.300" y="1314.500">2F</text><text class="n" x="923.300" y="1341">White</text>
<path d="M789.500,1377.300L836,1350.700H1010L1056,1377.300V1493.300H789.500Z"/>
<path d="M789.500,1378.300H811.300V1406.700M1034,1406.700V1378.300H1056M836,1350.700V1406.700M1010.300,1350.700V1406.700M844,1406.700V1386.700L867.500,1363.300H979.500L1003,1386.700V1406.700M836,1386.700H844M1003,1386.700H1010.300M868.700,1363.300V1406.700M977.400,1363.300V1406.700M789.500,1406.700H836M844,1406.700H877M969.200,1406.700H1003M1010.300,1406.700H1056"/>
<path class="b" d="M877,1408V1370.700H969.200V1408"/>
<path d="M877,1378.300H969.200M890.500,1370.700V1378.300M957,1370.700V1378.300M911,1378V1395H935.600V1378M911,1387.300H935.600"/>
<path class="b" d="M797.700,1410H1047V1489.300H797.700ZM797.700,1449.300H1047"/>
<path class="g" d="M825.400,1410V1489.300M853.100,1410V1489.300M880.800,1410V1489.300M908.500,1410V1489.300M936.200,1410V1489.300M963.900,1410V1489.300M991.600,1410V1489.300M1019.300,1410V1489.300"/>
<path class="g" d="M797,1493.300V1510H1049V1493.300M804.300,1493.300V1510M1041,1493.300V1510M827.700,1493.300V1510M868.700,1493.300V1510M827.700,1501.700H868.700M979.500,1493.300V1510M1018.500,1493.300V1510M979.500,1501.700H1018.500M936.400,1493.300V1501.700H943.400V1493.300"/>
<g class="p"><text x="811.500" y="1435">1</text><text x="839.200" y="1435">2</text><text x="866.900" y="1435">3</text><text x="894.600" y="1435">4</text><text x="922.300" y="1435">5</text><text x="950" y="1435">6</text><text x="977.700" y="1435">7</text><text x="1005.400" y="1435">8</text><text x="1033.100" y="1435">9</text>
<text x="811.500" y="1474.500">10</text><text x="839.200" y="1474.500">11</text><text x="866.900" y="1474.500">12</text><text x="894.600" y="1474.500">13</text><text x="922.300" y="1474.500">14</text><text x="950" y="1474.500">15</text><text x="977.700" y="1474.500">16</text><text x="1005.400" y="1474.500">17</text><text x="1033.100" y="1474.500">18</text></g>
</g>

<g id="2G" transform="matrix(.9936 0 0 1 4.86 0)">
<rect class="pill" x="1264.600" y="1297" width="46.400" height="23.300" rx="11.600"/>
<text class="n" x="1288" y="1314.500">2G</text><text class="n" x="1288" y="1341">White</text>
<path class="b" d="M1263.800,1370V1353Q1264,1350 1267,1350H1308Q1311.800,1350 1311.800,1353V1370L1305.600,1378.300M1263.800,1370L1270.800,1378.300"/>
<path d="M1264,1358H1311.800M1277.700,1375V1365H1297.400V1375M1270,1375H1306M1272.600,1376.700V1411.700H1260.500V1393.300M1302.400,1376.700V1411.700H1316V1393.300M1260.500,1405H1272.600M1302.400,1405H1316"/>
<path d="M1238,1375L1242,1361.700H1254.400L1259.700,1380M1318,1380L1322,1361.700H1334.400L1339.300,1376.700M1238,1377.300H1188.700L1182.600,1383.300V1468.300L1200,1478L1215.400,1487.300H1355L1375,1478L1389,1468.300V1381.700L1383.600,1377.300H1339"/>
<path d="M1186.700,1468V1384M1385.600,1468V1384M1188.700,1388H1242L1255,1393M1320,1393L1333,1383.300H1383M1176.400,1400H1182.600V1453.300H1176.400ZM1389,1400H1399V1453.300H1389Z"/>
<path class="b" d="M1192,1430V1393.300H1256.400V1430M1320,1430V1393.300H1383.600V1463.300H1192V1430H1383.600"/>
<path class="g" d="M1224.800,1393.300V1463.300M1256.400,1430V1463.300M1288,1430V1463.300M1320,1430V1463.300M1350.800,1393.300V1463.300"/>
<path d="M1182.600,1468.300H1389M1185,1471.700H1387"/>
<g class="p"><text x="1209.200" y="1416">1</text><text x="1240" y="1416">2</text><text x="1335.600" y="1416">3</text><text x="1367" y="1416">4</text><text x="1209.200" y="1452">5</text><text x="1240" y="1452">6</text><text x="1271.600" y="1452">7</text><text x="1303.600" y="1452">8</text><text x="1335.600" y="1452">9</text><text x="1367" y="1452">10</text></g>
</g>

<g id="2H" transform="matrix(.9936 0 0 1 .13 0)">
<rect class="pill" x="83.600" y="1572.700" width="47.700" height="27.300" rx="13.600"/>
<text class="n" x="107.400" y="1592.500">2H</text><text class="n" x="108.200" y="1620">Yellow</text>
<path d="M39,1651.700H51V1631.700L55,1629.300H63.700L67.700,1632.700V1690M146.400,1690V1632.700L151.200,1629.300H160L163.900,1632.700V1651.700H175.800V1755H39V1651.700M59.700,1651.700V1690M155,1651.700V1690"/>
<path d="M71.700,1666.700V1643.300L75.600,1638.300H139.200L144,1643.300V1666"/>
<path class="b" d="M67.700,1660L81.600,1667V1693H72L67.700,1690M144,1665L129.300,1669V1693H144L146.400,1690"/>
<path d="M83.600,1660H129.300M83.600,1660V1650L91.500,1645M129.300,1660V1650L125.300,1645M91.500,1645H125.300V1658.300H91.500ZM95.500,1646.700H119.400V1656.700H95.500Z"/>
<path d="M39,1693.300H175.800"/>
<path class="b" d="M51,1700H163V1735H51Z"/>
<path class="g" d="M79.600,1700V1735M107.400,1700V1735M135.300,1700V1735"/>
<path class="b" d="M51,1740.700H79.600V1750H51ZM83.600,1740.700H103.500V1750H83.600ZM112.200,1740.700H130.500V1750H112.200ZM134.500,1740.700H163.900V1750H134.500Z"/>
<path class="g" d="M51,1755V1763.300H163.900V1755M59.700,1755V1763M76.800,1755V1763M119.400,1755V1763M139.200,1755V1763M157,1755V1763M95.500,1756H119.400V1760H95.500Z"/>
<path class="g" d="M71.700,1763.300L83.600,1771.700H139.200L151.200,1763.300"/>
<g class="p"><text x="63.700" y="1723.500">1</text><text x="90.700" y="1723.500">2</text><text x="118.200" y="1723.500">3</text><text x="146.400" y="1723.500">4</text></g>
</g>

<g id="2I" transform="matrix(.9936 0 0 1 .13 0)">
<rect class="pill" x="433.400" y="1572.700" width="46.900" height="27.300" rx="13.600"/>
<text class="n" x="456.400" y="1592.500">2I</text><text class="n" x="456.400" y="1620">White</text>
<path d="M295.400,1656L369,1629.300H546.600L618.200,1656V1771.700H295.400Z"/>
<path d="M295.400,1657.300H318V1683M596.300,1683V1657.300H618.200M369.800,1629.300V1685M542.700,1629.300V1685M377.700,1685V1665L401.600,1640.700H512.800L536.700,1665V1685M369.800,1665H377.700M536.700,1665H542.700M406.300,1640.700V1685M508,1640.700V1685M295.400,1685H369.800M377.700,1685H411.500M503,1685H536.700M542.700,1685H618.200"/>
<path class="b" d="M411.500,1686.700V1649H503V1686.700"/>
<path d="M411.500,1656.700H503M423.400,1649V1656.700M491,1649V1656.700M444.500,1656.700V1673.300H469V1656.700M444.500,1666H469"/>
<path class="b" d="M303.400,1688.300H609.400V1766.700H303.400ZM303.400,1727.700H609.400"/>
<path class="g" d="M331.200,1688.300V1766.700M359,1688.300V1766.700M386.800,1688.300V1766.700M414.600,1688.300V1766.700M442.400,1688.300V1766.700M470.200,1688.300V1766.700M498,1688.300V1766.700M525.800,1688.300V1766.700M553.600,1688.300V1766.700M581.400,1688.300V1766.700"/>
<path class="g" d="M304.200,1771.700V1787.300H609.400V1771.700M310,1771.700V1787.300M604.300,1771.700V1787.300M334,1771.700V1787.300M373,1771.700V1787.300M334,1780H373M540.700,1771.700V1787.300M580.400,1771.700V1787.300M540.700,1780H580.400"/>
<g class="p"><text x="317.300" y="1712.500">1</text><text x="345.100" y="1712.500">2</text><text x="372.900" y="1712.500">3</text><text x="400.700" y="1712.500">4</text><text x="428.500" y="1712.500">5</text><text x="456.300" y="1712.500">6</text><text x="484.100" y="1712.500">7</text><text x="511.900" y="1712.500">8</text><text x="539.700" y="1712.500">9</text><text x="567.500" y="1712.500">10</text><text x="595.400" y="1712.500">11</text>
<text x="317.300" y="1752.500">12</text><text x="345.100" y="1752.500">13</text><text x="372.900" y="1752.500">14</text><text x="400.700" y="1752.500">15</text><text x="428.500" y="1752.500">16</text><text x="456.300" y="1752.500">17</text><text x="484.100" y="1752.500">18</text><text x="511.900" y="1752.500">19</text><text x="539.700" y="1752.500">20</text><text x="567.500" y="1752.500">21</text><text x="595.400" y="1752.500">22</text></g>
</g>

<g id="3C">
<rect class="pill" x="844" y="1572.700" width="46" height="27.300" rx="13.600"/>
<text class="n" x="867" y="1592.500">3C</text><text class="n" x="866.700" y="1620">White</text>
<path d="M734.300,1656L780,1629.300H955L1000,1656V1771.700H734.300Z"/>
<path d="M734.300,1657.300H758.300V1683M976.700,1683V1657.300H1000M780.700,1629.300V1685M951.700,1629.300V1685M787.300,1685V1665L811.700,1640.700H921.700L946,1665V1685M780.700,1665H787.300M946,1665H951.700M815,1640.700V1685M916.700,1640.700V1685M734.300,1685H780.700M787.300,1685H821.700M913.300,1685H946M951.700,1685H1000"/>
<path class="b" d="M821.700,1686.700V1649H913.300V1686.700"/>
<path d="M821.700,1656.700H913.300M834.300,1649V1656.700M900.700,1649V1656.700M855,1656.700V1673.300H880V1656.700M855,1665H880"/>
<path class="b" d="M743.300,1688.300H991.700V1766.700H743.300ZM743.300,1727.700H991.700"/>
<path class="g" d="M770.900,1688.300V1766.700M798.500,1688.300V1766.700M826.100,1688.300V1766.700M853.700,1688.300V1766.700M881.300,1688.300V1766.700M908.900,1688.300V1766.700M936.500,1688.300V1766.700M964.100,1688.300V1766.700"/>
<path class="g" d="M742.700,1771.700V1787.300H992.700V1771.700M749.300,1771.700V1787.300M984.300,1771.700V1787.300M771.700,1771.700V1787.300M811.700,1771.700V1787.300M771.700,1780H811.700M921.700,1771.700V1787.300M961.700,1771.700V1787.300M921.700,1780H961.700M880,1771.700V1779.300H890V1771.700"/>
<g class="p"><text x="757.100" y="1712.500">1</text><text x="784.700" y="1712.500">2</text><text x="812.300" y="1712.500">3</text><text x="839.900" y="1712.500">4</text><text x="867.500" y="1712.500">5</text><text x="895.100" y="1712.500">6</text><text x="922.700" y="1712.500">7</text><text x="950.300" y="1712.500">8</text><text x="977.900" y="1712.500">9</text>
<text x="757.100" y="1752.500">10</text><text x="784.700" y="1752.500">11</text><text x="812.300" y="1752.500">12</text><text x="839.900" y="1752.500">13</text><text x="867.500" y="1752.500">14</text><text x="895.100" y="1752.500">15</text><text x="922.700" y="1752.500">16</text><text x="950.300" y="1752.500">17</text><text x="977.900" y="1752.500">18</text></g>
</g>
</svg>
